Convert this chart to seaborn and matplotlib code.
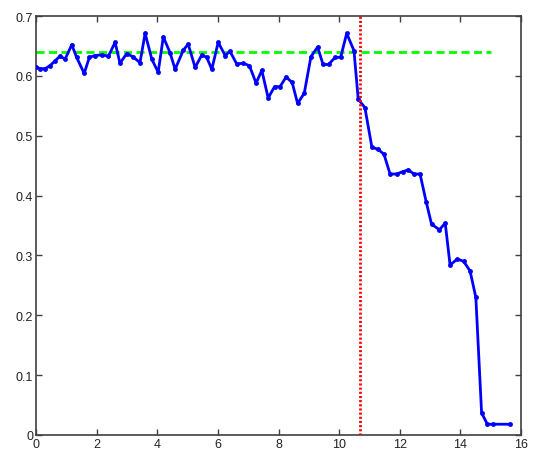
import matplotlib
matplotlib.use("Agg")
import matplotlib.pyplot as plt
import seaborn as sns
import pandas as pd

# Measured curve
x_vals = [0.00, 0.13, 0.30, 0.46, 0.63, 0.79, 0.96, 1.18, 1.34, 1.59,
          1.76, 1.95, 2.17, 2.39, 2.61, 2.77, 2.99, 3.20, 3.43, 3.60,
          3.82, 4.03, 4.20, 4.42, 4.59, 4.86, 5.02, 5.25, 5.47, 5.63,
          5.80, 6.01, 6.24, 6.40, 6.62, 6.84, 7.04, 7.26, 7.45, 7.66,
          7.87, 8.05, 8.25, 8.45, 8.63, 8.85, 9.07, 9.29, 9.47, 9.65,
          9.87, 10.05, 10.25, 10.49, 10.63, 10.85, 11.08, 11.29, 11.48, 11.68,
          11.90, 12.10, 12.28, 12.47, 12.67, 12.87, 13.05, 13.31, 13.50, 13.66,
          13.90, 14.11, 14.32, 14.51, 14.70, 14.89, 15.09, 15.64]
y_vals = [0.615, 0.612, 0.612, 0.617, 0.625, 0.633, 0.628, 0.652, 0.631, 0.604,
          0.631, 0.634, 0.635, 0.633, 0.656, 0.621, 0.637, 0.632, 0.622, 0.671,
          0.628, 0.606, 0.665, 0.639, 0.611, 0.643, 0.653, 0.614, 0.635, 0.631,
          0.611, 0.656, 0.634, 0.641, 0.620, 0.621, 0.617, 0.588, 0.609, 0.563,
          0.582, 0.582, 0.598, 0.589, 0.554, 0.571, 0.632, 0.648, 0.619, 0.619,
          0.631, 0.631, 0.671, 0.642, 0.561, 0.547, 0.481, 0.477, 0.469, 0.436,
          0.436, 0.440, 0.443, 0.436, 0.436, 0.390, 0.352, 0.343, 0.354, 0.284,
          0.294, 0.290, 0.274, 0.230, 0.037, 0.018, 0.018, 0.018]

# Reference level and change point
ref_level = 0.64
ref_x = [0, 15]
change_x = 10.68

x_ticks = [0, 2, 4, 6, 8, 10, 12, 14, 16]
y_ticks = [0, 0.1, 0.2, 0.3, 0.4, 0.5, 0.6, 0.7]
y_ticklabels = ["0", "0.1", "0.2", "0.3", "0.4", "0.5", "0.6", "0.7"]

sns.set_style("ticks")
plt.rcParams["font.family"] = ["Liberation Sans", "DejaVu Sans"]

df = pd.DataFrame({"x": x_vals, "y": y_vals})
ref_df = pd.DataFrame({"x": ref_x, "y": [ref_level, ref_level]})

fig = plt.figure(figsize=(5.39, 4.52), dpi=100)
ax = fig.add_axes([36 / 539, 16 / 452, 485 / 539, 419 / 452])

sns.lineplot(data=df, x="x", y="y", ax=ax, sort=False, color=(0, 0, 1),
             linewidth=2, marker="o", markersize=3.5, markeredgewidth=0,
             zorder=3)
sns.lineplot(data=ref_df, x="x", y="y", ax=ax, color=(0, 1, 0),
             linewidth=2, linestyle=(0, (2.9, 1.6)), zorder=2)
ax.axvline(change_x, color=(1, 0, 0), linewidth=2, linestyle=(0, (0.75, 0.75)),
           zorder=4)

ax.set_xlim(0, 16)
ax.set_ylim(0, 0.7)
ax.set_xticks(x_ticks)
ax.set_xticklabels([str(t) for t in x_ticks])
ax.set_yticks(y_ticks)
ax.set_yticklabels(y_ticklabels)
ax.set_xlabel("")
ax.set_ylabel("")

for side in ["top", "right", "bottom", "left"]:
    ax.spines[side].set_visible(True)
    ax.spines[side].set_color("#404040")
    ax.spines[side].set_linewidth(1.2)
ax.tick_params(direction="in", length=4, width=1, colors="#404040",
               labelcolor="#222222", labelsize=9, top=True, right=True,
               pad=2)

fig.savefig("out.png", dpi=100, facecolor="white")
